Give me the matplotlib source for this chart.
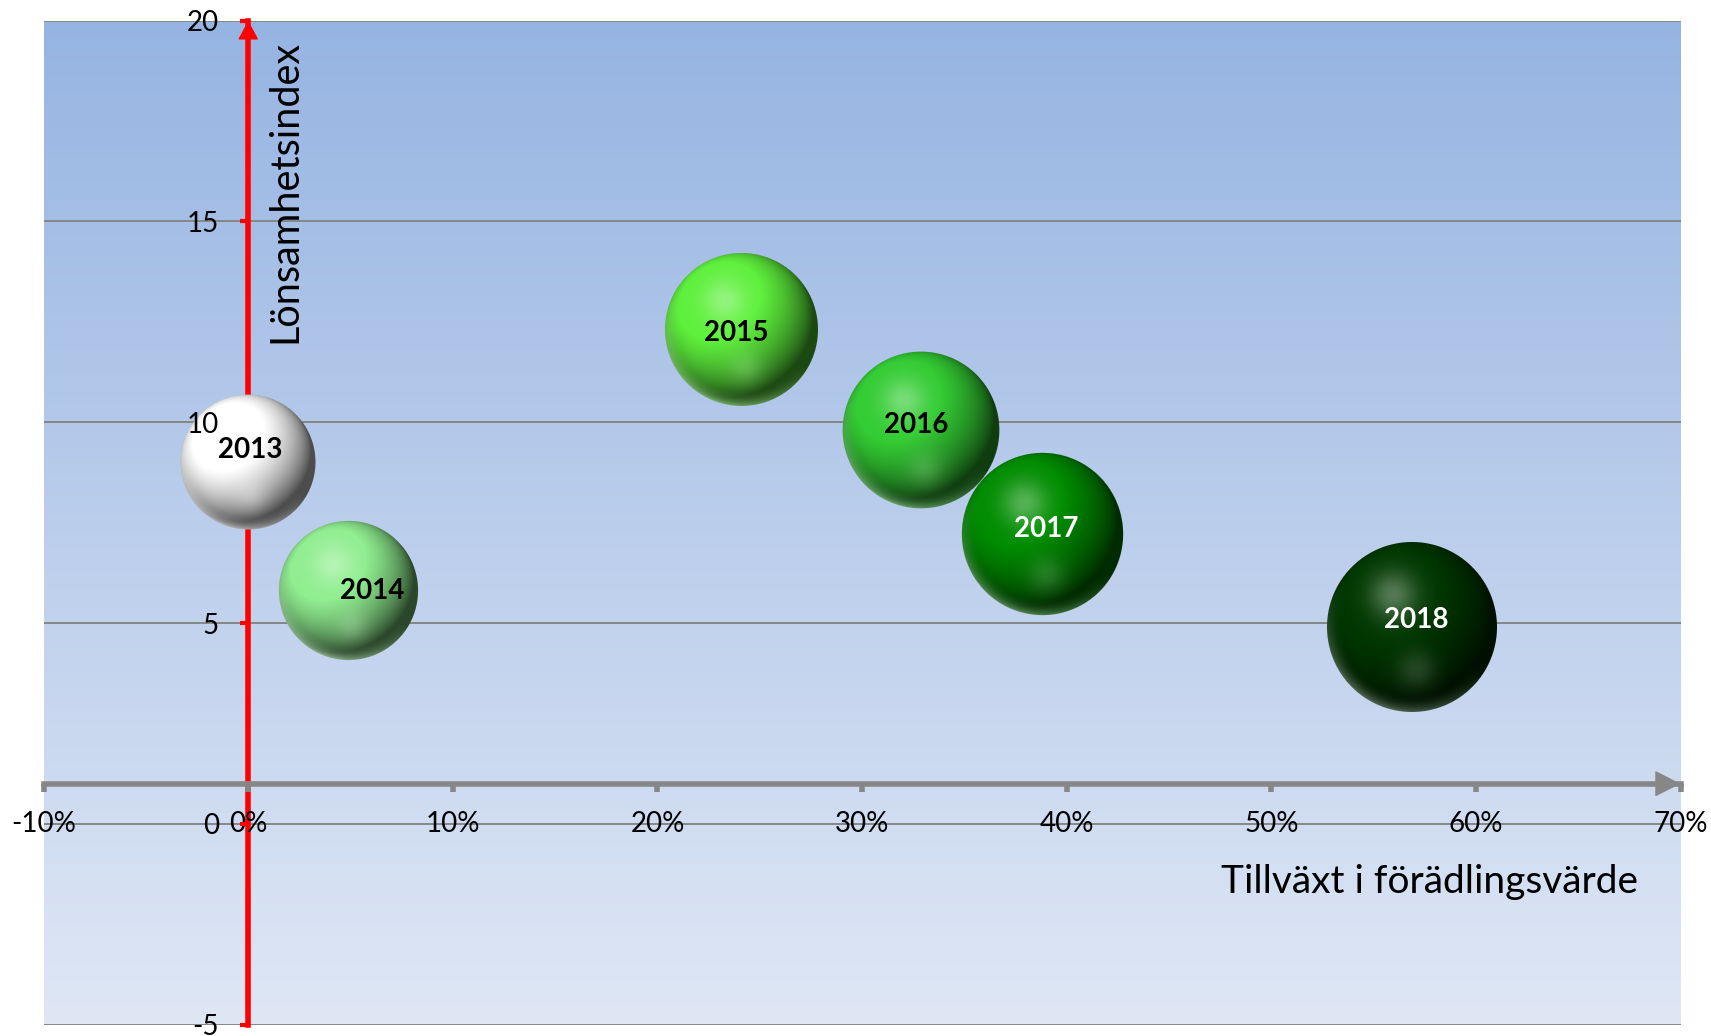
import numpy as np
import matplotlib
matplotlib.use("Agg")
import matplotlib.pyplot as plt
from matplotlib.offsetbox import OffsetImage, AnnotationBbox

plt.rcParams['font.family'] = ['Lato', 'DejaVu Sans']

# data
years = ['2013', '2014', '2015', '2016', '2017', '2018']
growth = [0.0, 4.9, 24.1, 32.9, 38.8, 56.9]        # Tillväxt i förädlingsvärde (%)
profit = [9.0, 5.8, 12.3, 9.8, 7.2, 4.9]           # Lönsamhetsindex
bubble_size = [6.3, 6.7, 8.1, 8.5, 9.0, 10.0]

x_ticks = [-10, 0, 10, 20, 30, 40, 50, 60, 70]
y_ticks = [-5, 0, 5, 10, 15, 20]

bubble_colors = ['#ffffff', '#90ee90', '#5ef03c', '#33cc33', '#008c00', '#003700']
label_colors = ['black', 'black', 'black', 'black', 'white', 'white']
label_offsets = [(1.5, 9), (17, 0), (-4, -2), (-4, 4), (3, 4), (3, 5)]


def sphere_img(color, R):
    base = np.array(matplotlib.colors.to_rgb(color))
    n = int(2 * R) + 4
    c = (n - 1) / 2
    yy, xx = np.mgrid[0:n, 0:n]
    x = (xx - c) / R
    y = (c - yy) / R
    r = np.sqrt(x ** 2 + y ** 2)
    z = np.sqrt(np.clip(1 - r ** 2, 0, 1))
    L = np.array([-0.35, 0.45, 0.82])
    L = L / np.linalg.norm(L)
    diff = np.clip(x * L[0] + y * L[1] + z * L[2], 0, 1)
    shade = np.clip(0.3 + 0.85 * diff, 0, 1)
    col = base[None, None, :] * shade[..., None]
    light = base + (1 - base) * 0.55
    hi = 0.6 * np.exp(-((x + 0.22) ** 2 + (y - 0.38) ** 2) / 0.08)
    col = col + (light - col) * hi[..., None]
    glow = 0.25 * np.exp(-((x - 0.05) ** 2 + (y + 0.5) ** 2) / 0.05)
    col = col + (light - col) * glow[..., None]
    rim = np.clip((r - 0.8) / 0.2, 0, 1) ** 2 * np.clip((-0.5 * x - 0.85 * y) / np.maximum(r, 1e-6), 0, 1)
    col = col + (light - col) * (0.6 * rim)[..., None]
    alpha = np.clip((1 - r) * R + 0.5, 0, 1)
    return np.dstack([np.clip(col, 0, 1), alpha])


fig = plt.figure(figsize=(17.11, 10.36), dpi=100)
ax = fig.add_axes([0.0255, 0.011, 0.9567, 0.969])

# gradient plot background
grad = np.linspace(0, 1, 256)[:, None]
top = np.array([150, 180, 226]) / 255
bottom = np.array([223, 231, 245]) / 255
bg = top[None, None, :] * (1 - grad[..., None]) + bottom[None, None, :] * grad[..., None]
ax.imshow(np.repeat(bg, 2, axis=1), extent=[0, 1, 0, 1], transform=ax.transAxes,
          aspect='auto', zorder=0)

for yv in y_ticks:
    ax.axhline(yv, color='#868686', lw=1.4, zorder=1)

ax.set_xlim(-10, 70)
ax.set_ylim(-5, 20)

# axes crossing: y axis at x=0, x axis at y=1
ax.spines['left'].set_position(('data', 0))
ax.spines['bottom'].set_position(('data', 1))
ax.spines['right'].set_visible(False)
ax.spines['top'].set_visible(False)
ax.spines['left'].set_color('red')
ax.spines['left'].set_linewidth(4)
ax.spines['bottom'].set_color('#878787')
ax.spines['bottom'].set_linewidth(4)
ax.spines['left'].set_zorder(2)
ax.spines['bottom'].set_zorder(2)

ax.set_xticks(x_ticks)
ax.set_xticklabels([f'{v}%' for v in x_ticks])
ax.set_yticks(y_ticks)
ax.set_yticklabels([str(v) for v in y_ticks])
ax.tick_params(axis='y', direction='out', length=6, width=3, color='red',
               labelcolor='black', labelsize=20, pad=15)
ax.tick_params(axis='x', direction='out', length=6, width=4, color='#878787',
               labelcolor='black', labelsize=20, pad=14)
ax.yaxis.set_zorder(6)
ax.xaxis.set_zorder(6)
# the tick at 10 sits behind the 2013 bubble
ax.yaxis.get_major_ticks()[y_ticks.index(10)].tick1line.set_visible(False)

# arrow heads
ax.annotate('', xy=(0, 20), xytext=(0, 19.5), annotation_clip=False,
            arrowprops=dict(arrowstyle='-|>,head_length=0.8,head_width=0.43', color='red',
                            lw=1, mutation_scale=15, shrinkA=0, shrinkB=0), zorder=3)
ax.annotate('', xy=(70, 1), xytext=(69, 1), annotation_clip=False,
            arrowprops=dict(arrowstyle='-|>,head_length=0.83,head_width=0.42', color='#878787',
                            lw=1, mutation_scale=20, shrinkA=0, shrinkB=0), zorder=3)

# bubbles
r_max = 85
for i, yr in enumerate(years):
    R = r_max * np.sqrt(bubble_size[i] / max(bubble_size))
    im = OffsetImage(sphere_img(bubble_colors[i], R), zoom=1, dpi_cor=False)
    ab = AnnotationBbox(im, (growth[i], profit[i]), frameon=False, pad=0,
                        box_alignment=(0.5, 0.5), zorder=4 + i * 0.1)
    ax.add_artist(ab)
    ax.annotate(yr, (growth[i], profit[i]), xytext=label_offsets[i], textcoords='offset points',
                ha='center', va='center', fontsize=20, fontweight='bold',
                color=label_colors[i], zorder=5)

ax.text(0.974, 0.142, 'Tillväxt i förädlingsvärde', transform=ax.transAxes,
        ha='right', va='center', fontsize=28, zorder=7)
ax.text(0.1476, 0.981, 'Lönsamhetsindex', transform=ax.transAxes, rotation=90,
        ha='center', va='top', fontsize=28.5, zorder=7)

fig.savefig('out.png', dpi=100)
